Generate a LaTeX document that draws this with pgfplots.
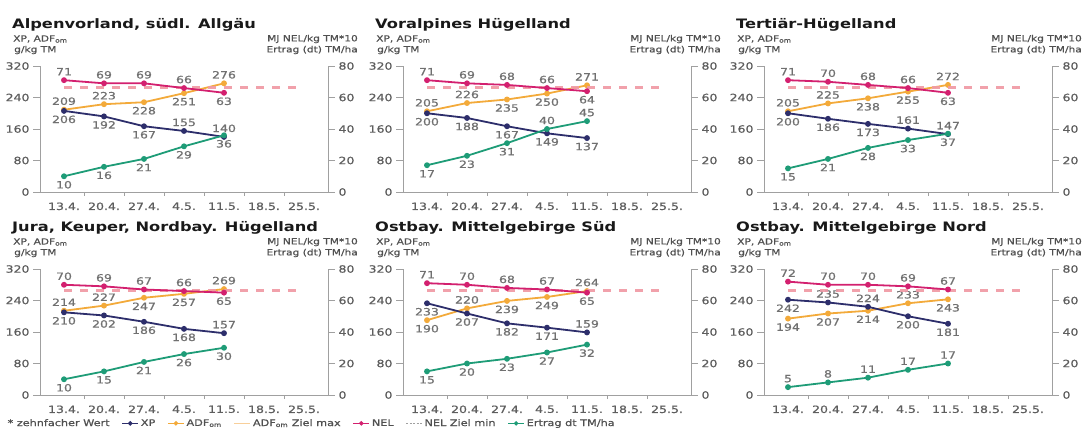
\documentclass[border=0pt]{standalone}
\usepackage{fontspec}
\setmainfont{DejaVu Sans}[FakeStretch=1.25]
\newfontfamily\semib{DejaVu Sans}[FakeStretch=1.25, FakeBold=0.8]
\usepackage{pgfplots}
\usepackage{pgfplotstable}
\pgfplotsset{compat=1.18}

\definecolor{cXP}{HTML}{2D2E6B}
\definecolor{cADF}{HTML}{F3AA3A}
\definecolor{cNEL}{HTML}{D3206F}
\definecolor{cERT}{HTML}{1E9C77}
\definecolor{cAx}{HTML}{A0A0A0}
\definecolor{cTick}{HTML}{5E5E5E}
\definecolor{cLab}{HTML}{707070}
\definecolor{cUnit}{HTML}{505050}
\definecolor{cNELz}{HTML}{F09AAE}
\definecolor{cADFz}{HTML}{F8CF9A}

\newcommand\titlefnt{\fontsize{13}{13}\selectfont\bfseries}
\newcommand\unitfnt{\semib\fontsize{8.5}{8.5}\selectfont}
\newcommand\tickfnt{\semib\fontsize{10}{10}\selectfont}
\newcommand\labfnt{\semib\fontsize{10}{10}\selectfont}
\newcommand\legfnt{\semib\fontsize{9}{9}\selectfont}

% x: 0=13.4. ... 4=11.5.; columns ending a/b hold the value where its label sits above/below the point
\pgfplotstableread{
x xp  xpa xpb adf adfa adfb nel nela nelb ert erta ertb ertl
0 206 nan 206 209 209 nan  71  71  nan  10  nan  10   10
1 192 nan 192 223 223 nan  69  69  nan  16  nan  16   16
2 167 nan 167 228 nan 228  69  69  nan  21  nan  21   21
3 155 155 nan 251 nan 251  66  66  nan  29  nan  29   29
4 140 140 nan 276 276 nan  63  nan 63   36  nan  36   36
}\tA
\pgfplotstableread{
x xp  xpa xpb adf adfa adfb nel nela nelb ert erta ertb ertl
0 200 nan 200 205 205 nan  71  71  nan  17  nan  17   17
1 188 nan 188 226 226 nan  69  69  nan  23  nan  23   23
2 167 nan 167 235 nan 235  68  68  nan  31  nan  31   31
3 149 nan 149 250 nan 250  66  66  nan  40  40   nan  40
4 137 nan 137 271 271 nan  64  nan 64   45  45   nan  45
}\tB
\pgfplotstableread{
x xp  xpa xpb adf adfa adfb nel nela nelb ert erta ertb ertl
0 200 nan 200 205 205 nan  71  71  nan  15  nan  15   15
1 186 nan 186 225 225 nan  70  70  nan  21  nan  21   21
2 173 nan 173 238 nan 238  68  68  nan  28  nan  28   28
3 161 161 nan 255 nan 255  66  66  nan  33  nan  33   33
4 147 147 nan 272 272 nan  63  nan 63   37  nan  37   37
}\tC
\pgfplotstableread{
x xp  xpa xpb adf adfa adfb nel nela nelb ert erta ertb ertl
0 210 nan 210 214 214 nan  70  70  nan  10  nan  10   10
1 202 nan 202 227 227 nan  69  69  nan  15  nan  15   15
2 186 nan 186 247 nan 247  67  67  nan  21  nan  21   21
3 168 nan 168 257 nan 257  66  66  nan  26  nan  26   26
4 157 157 nan 269 269 nan  65  nan 65   30  nan  30   30
}\tD
\pgfplotstableread{
x xp  xpa xpb adf adfa adfb nel nela nelb ert erta ertb ertl
0 233 nan 233 190 nan 190  71  71  nan  15  nan  15   15
1 207 nan 207 220 220 nan  70  70  nan  20  nan  20   20
2 182 nan 182 239 nan 239  68  68  nan  23  nan  23   23
3 171 nan 171 249 nan 249  67  67  nan  27  nan  27   27
4 159 159 nan 264 264 nan  65  nan 65   32  nan  32   32
}\tE
\pgfplotstableread{
x xp  xpa xpb adf adfa adfb nel nela nelb ert erta ertb ertl
0 242 nan 242 194 nan 194  72  72  nan  5   5    nan  5
1 235 235 nan 207 nan 207  70  70  nan  8   8    nan  8
2 224 224 nan 214 nan 214  70  70  nan  11  11   nan  11
3 200 nan 200 233 233 nan  69  69  nan  16  16   nan  17
4 181 nan 181 243 nan 243  67  67  nan  20  20   nan  17
}\tF

\pgfplotsset{
  base/.style={
    scale only axis, width=288pt, height=126pt,
    anchor=south west,
    xmin=-0.6, xmax=6.6,
    clip=false,
    axis line style={cAx, line width=0.9pt},
    tick style={cAx, line width=0.9pt},
    tick align=outside,
    major tick length=7pt,
    minor tick length=4pt,
    tick label style={font=\tickfnt, text=cTick},
    /pgf/number format/assume math mode=true,
    unbounded coords=discard,
    every node near coord/.append style={font=\labfnt, text=cLab, anchor=center},
  },
  leftax/.style={base, ymin=0, ymax=320, ytick={0,80,160,240,320},
    axis y line*=left, axis x line*=bottom,
    xtick={0,...,6}, xticklabels={13.4.,20.4.,27.4.,4.5.,11.5.,18.5.,25.5.},
    major x tick style={draw=none},
    minor xtick={0.5,1.5,2.5,3.5,4.5,5.5},
  },
  rightax/.style={base, ymin=0, ymax=80, ytick={0,20,40,60,80},
    axis y line*=right, axis x line=none, xtick=\empty},
  ser/.style={forget plot, line width=1.8pt, mark=*, mark size=2pt, mark options={solid}},
  labA/.style={forget plot, draw=none, mark=none, nodes near coords, every node near coord/.append style={yshift=8.5pt}},
  labB/.style={forget plot, draw=none, mark=none, nodes near coords, every node near coord/.append style={yshift=-8.5pt}},
  legend image code/.code={\draw[mark repeat=2,mark phase=2,#1] plot coordinates {(0pt,0pt)(8pt,0pt)(16pt,0pt)};},
}

% #1 ox, #2 oy, #3 title, #4 table, #5 extra left-axis options, #6 extra left-axis code
\newcommand{\panel}[6]{%
  \node[anchor=base west, inner sep=0pt, font=\titlefnt, text=black!90] at ({#1-28},{#2+164}) {#3};
  \node[anchor=west, inner sep=0pt, font=\unitfnt, text=cUnit] at ({#1-27},{#2+153}) {XP, ADF\textsubscript{om}};
  \node[anchor=west, inner sep=0pt, font=\unitfnt, text=cUnit] at ({#1-26},{#2+142}) {g/kg TM};
  \node[anchor=east, inner sep=0pt, font=\unitfnt, text=cUnit] at ({#1+318},{#2+153}) {MJ NEL/kg TM*10};
  \node[anchor=east, inner sep=0pt, font=\unitfnt, text=cUnit] at ({#1+318},{#2+142}) {Ertrag (dt) TM/ha};
  \begin{axis}[leftax, at={(#1pt,#2pt)}, #5]
    #6
    \addplot[forget plot, cADFz, line width=2.6pt, dash pattern=on 8pt off 8pt] coordinates {(0,265) (6,265)};
    \addplot[ser, cADF] table[x=x, y=adf] {#4};
    \addplot[ser, cXP] table[x=x, y=xp] {#4};
    \addplot[labA] table[x=x, y=adfa] {#4};
    \addplot[labB] table[x=x, y=adfb] {#4};
    \addplot[labA] table[x=x, y=xpa] {#4};
    \addplot[labB] table[x=x, y=xpb] {#4};
  \end{axis}
  \begin{axis}[rightax, at={(#1pt,#2pt)}]
    \addplot[forget plot, cNELz, opacity=0.85, line width=2.6pt, dash pattern=on 8pt off 8pt] coordinates {(0,66.5) (6,66.5)};
    \addplot[ser, cNEL] table[x=x, y=nel] {#4};
    \addplot[ser, cERT] table[x=x, y=ert] {#4};
    \addplot[labA] table[x=x, y=nela] {#4};
    \addplot[labB] table[x=x, y=nelb] {#4};
    \addplot[labA, point meta=explicit] table[x=x, y=erta, meta=ertl] {#4};
    \addplot[labB, point meta=explicit] table[x=x, y=ertb, meta=ertl] {#4};
  \end{axis}
}

\begin{document}
\begin{tikzpicture}[x=1pt, y=1pt]
\useasboundingbox (0,0) rectangle (1084,-429);
\panel{40}{-192}{Alpenvorland, südl. Allgäu}{\tA}{}{}
\panel{403}{-192}{Voralpines Hügelland}{\tB}{}{}
\panel{764}{-192}{Tertiär-Hügelland}{\tC}{}{}
\panel{40}{-395}{Jura, Keuper, Nordbay. Hügelland}{\tD}{%
  legend style={at={(-0.12,-0.225)}, anchor=west, draw=none, fill=none, font=\legfnt, text=cUnit, inner sep=0pt,
    /tikz/every even column/.append style={column sep=10pt}},
  legend columns=-1}{%
  \addlegendimage{empty legend}\addlegendentry{* zehnfacher Wert}
  \addlegendimage{cXP, line width=1.2pt, mark=*, mark size=1.6pt}\addlegendentry{XP}
  \addlegendimage{cADF, line width=1.2pt, mark=*, mark size=1.6pt}\addlegendentry{ADF\textsubscript{om}}
  \addlegendimage{cADFz, line width=1.2pt}\addlegendentry{ADF\textsubscript{om} Ziel max}
  \addlegendimage{cNEL, line width=1.2pt, mark=*, mark size=1.6pt}\addlegendentry{NEL}
  \addlegendimage{cAx, line width=0.8pt, dash pattern=on 2pt off 1.5pt}\addlegendentry{NEL Ziel min}
  \addlegendimage{cERT, line width=1.2pt, mark=*, mark size=1.6pt}\addlegendentry{Ertrag dt TM/ha}
}
\panel{403}{-395}{Ostbay. Mittelgebirge Süd}{\tE}{}{}
\panel{764}{-395}{Ostbay. Mittelgebirge Nord}{\tF}{}{}
\end{tikzpicture}
\end{document}
